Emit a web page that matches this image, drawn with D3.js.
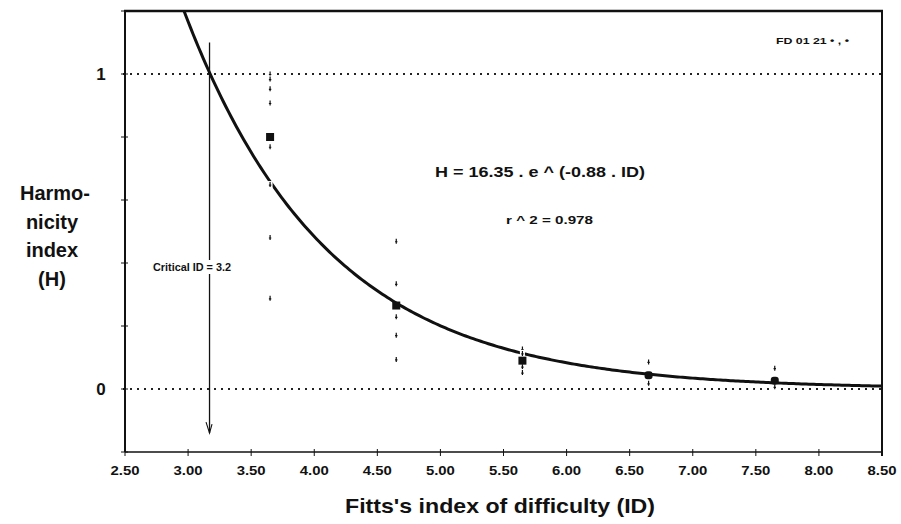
<!DOCTYPE html>
<meta charset="utf-8" />
<style>
  body { margin: 0; background: #fff; }
  svg { display: block; }
  text { font-family: "Liberation Sans", Arial, sans-serif; font-weight: bold; fill: #111; }
  .frame { stroke: #111; fill: none; }
  .ref { stroke: #222; stroke-width: 2; stroke-dasharray: 2,5; fill: none; }
  .fit { stroke: #111; stroke-width: 3; fill: none; }
</style>
<body>
<script src="https://d3js.org/d3.v7.min.js"></script>
<script>
  // tested IDs and mean harmonicity
  var ids = [3.65, 4.65, 5.65, 6.65, 7.65];
  var meanH = [0.80, 0.265, 0.09, 0.044, 0.026];
  // individual values around each mean
  var spreadH = [
    [1.0, 0.984, 0.953, 0.908, 0.769, 0.649, 0.481, 0.288],
    [0.469, 0.334, 0.229, 0.171, 0.094],
    [0.127, 0.113, 0.071, 0.052],
    [0.086, 0.018],
    [0.066, 0.007]
  ];
  // fit H = a . e^(b . ID)
  var fitA = 16.35, fitB = -0.88;
  var criticalID = 3.17;
  var xTicks = [2.5, 3, 3.5, 4, 4.5, 5, 5.5, 6, 6.5, 7, 7.5, 8, 8.5];
  var yTicks = [-0.2, 0, 0.2, 0.4, 0.6, 0.8, 1, 1.2];
  var yLabels = [0, 1];

  var width = 901, height = 524;
  var x = d3.scaleLinear().domain([2.5, 8.5]).range([125, 882]);
  var y = d3.scaleLinear().domain([-0.2, 1.2]).range([452, 11]);

  var svg = d3.select('body').append('svg')
    .attr('width', width).attr('height', height);

  svg.append('defs').append('clipPath').attr('id', 'plot')
    .append('rect')
    .attr('x', x(2.5)).attr('y', y(1.2))
    .attr('width', x(8.5) - x(2.5)).attr('height', y(-0.2) - y(1.2));

  // dotted reference lines at H = 1 and H = 0
  svg.selectAll('.ref').data([1, 0]).enter().append('line')
    .attr('class', 'ref')
    .attr('x1', x(2.5) - 2).attr('x2', x(8.5))
    .attr('y1', function (d) { return y(d); })
    .attr('y2', function (d) { return y(d); });

  // frame
  svg.append('line').attr('class', 'frame').attr('stroke-width', 2.5)
    .attr('x1', x(2.5) - 1).attr('x2', x(8.5) + 1).attr('y1', y(1.2)).attr('y2', y(1.2));
  svg.append('line').attr('class', 'frame').attr('stroke-width', 2)
    .attr('x1', x(2.5)).attr('x2', x(2.5)).attr('y1', y(1.2)).attr('y2', y(-0.2));
  svg.append('line').attr('class', 'frame').attr('stroke-width', 2)
    .attr('x1', x(8.5)).attr('x2', x(8.5)).attr('y1', y(1.2)).attr('y2', y(-0.2) + 4);
  svg.append('line').attr('class', 'frame').attr('stroke-width', 1.5)
    .attr('x1', x(2.5)).attr('x2', x(8.5)).attr('y1', y(-0.2)).attr('y2', y(-0.2));

  // x ticks + labels
  svg.selectAll('.xt').data(xTicks).enter().append('line')
    .attr('class', 'frame').attr('stroke-width', 1)
    .attr('x1', function (d) { return x(d); }).attr('x2', function (d) { return x(d); })
    .attr('y1', y(-0.2) - 3).attr('y2', y(-0.2) + 4);
  svg.selectAll('.xl').data(xTicks).enter().append('text')
    .attr('x', function (d) { return x(d); })
    .attr('y', 475)
    .attr('text-anchor', 'middle')
    .attr('textLength', 29).attr('lengthAdjust', 'spacingAndGlyphs')
    .style('font-size', '13.5px')
    .text(function (d) { return d3.format('.2f')(d); });

  // y ticks + labels
  svg.selectAll('.yt').data(yTicks).enter().append('line')
    .attr('class', 'frame').attr('stroke-width', 1)
    .attr('x1', x(2.5) - 4).attr('x2', x(2.5) + 3)
    .attr('y1', function (d) { return y(d); }).attr('y2', function (d) { return y(d); });
  svg.selectAll('.yl').data(yLabels).enter().append('text')
    .attr('x', 101)
    .attr('y', function (d) { return y(d) + 6; })
    .attr('text-anchor', 'middle')
    .style('font-size', '17px')
    .text(function (d) { return d; });

  // axis titles
  svg.append('text')
    .attr('x', 500).attr('y', 513)
    .attr('text-anchor', 'middle')
    .attr('textLength', 310).attr('lengthAdjust', 'spacingAndGlyphs')
    .style('font-size', '21px')
    .text("Fitts's index of difficulty (ID)");
  var yTitle = ['Harmo-', 'nicity', 'index', '(H)'];
  svg.selectAll('.ytl').data(yTitle).enter().append('text')
    .attr('x', function (d, i) { return i === 0 ? 55 : 52; })
    .attr('y', function (d, i) { return 200 + i * 28.5; })
    .attr('text-anchor', 'middle')
    .style('font-size', '20px')
    .text(function (d) { return d; });

  // fitted curve
  var line = d3.line()
    .x(function (d) { return x(d); })
    .y(function (d) { return y(fitA * Math.exp(fitB * d)); });
  svg.append('path')
    .datum(d3.range(2.8, 8.51, 0.02))
    .attr('class', 'fit')
    .attr('clip-path', 'url(#plot)')
    .attr('d', line);

  // critical ID arrow
  var ax = x(criticalID);
  svg.append('line').attr('stroke', '#111').attr('stroke-width', 1.3)
    .attr('x1', ax).attr('x2', ax).attr('y1', y(1.1)).attr('y2', y(-0.14));
  svg.append('path').attr('fill', 'none').attr('stroke', '#111').attr('stroke-width', 1.1)
    .attr('d', 'M' + (ax - 3.5) + ',' + (y(-0.14) - 11) + 'L' + ax + ',' + y(-0.14) +
      'L' + (ax + 2.5) + ',' + (y(-0.14) - 9));
  var crit = svg.append('g');
  crit.append('rect').attr('fill', '#fff')
    .attr('x', 152).attr('y', 260).attr('width', 80).attr('height', 14);
  crit.append('text')
    .attr('x', 153).attr('y', 271)
    .attr('textLength', 78).attr('lengthAdjust', 'spacingAndGlyphs')
    .style('font-size', '11px')
    .text('Critical ID  =  3.2');

  // individual values (small marks) with white halo
  var marks = [];
  ids.forEach(function (id, i) {
    spreadH[i].forEach(function (h) { marks.push([id, h]); });
  });
  var mk = svg.selectAll('.mk').data(marks).enter().append('g')
    .attr('transform', function (d) { return 'translate(' + x(d[0]) + ',' + y(d[1]) + ')'; });
  mk.append('rect').attr('fill', '#fff').attr('x', -2.5).attr('y', -3.5).attr('width', 5).attr('height', 7);
  mk.append('path').attr('stroke', '#111').attr('stroke-width', 1.2).attr('fill', 'none')
    .attr('d', 'M0,-2.5V2.5M-1.2,0.5H1.2');

  // means
  svg.selectAll('.mean').data(ids).enter().append('rect')
    .attr('fill', '#111')
    .attr('x', function (d) { return x(d) - 4; })
    .attr('y', function (d, i) { return y(meanH[i]) - 4; })
    .attr('width', 8).attr('height', 8)
    .attr('rx', function (d, i) { return i > 2 ? 3 : 0; });

  // annotations
  svg.append('text')
    .attr('x', 435).attr('y', 177)
    .attr('textLength', 210).attr('lengthAdjust', 'spacingAndGlyphs')
    .style('font-size', '15px')
    .text('H  =  16.35 . e ^ (-0.88 . ID)');
  svg.append('text')
    .attr('x', 506).attr('y', 224)
    .attr('textLength', 87).attr('lengthAdjust', 'spacingAndGlyphs')
    .style('font-size', '11px')
    .text('r ^ 2  =  0.978');
  svg.append('text')
    .attr('x', 776).attr('y', 44)
    .attr('textLength', 73).attr('lengthAdjust', 'spacingAndGlyphs')
    .style('font-size', '9px')
    .text('FD 01 21  \u2022  ,  \u2022');
</script>
</body>
